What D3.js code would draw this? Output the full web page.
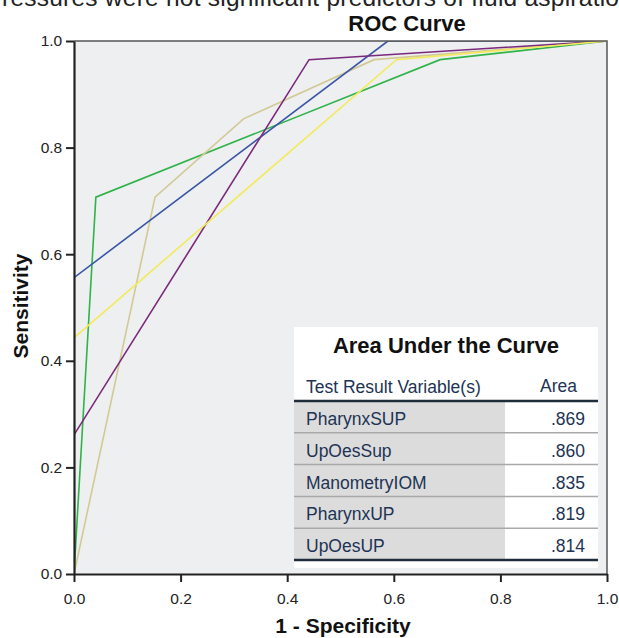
<!DOCTYPE html>
<html>
<head>
<meta charset="utf-8">
<script src="https://cdn.jsdelivr.net/npm/d3@7"></script>
<style>
	body { margin: 0; background: #fff; }
	text { font-family: "Liberation Sans", Arial, sans-serif; }
</style>
</head>
<body>
<script>
// ROC points per test, [1 - specificity, sensitivity]
var pharynxSUP = [[0, 0], [0.041, 0.707], [0.687, 0.965], [1, 1]];
var upOesSup = [[0, 0], [0.152, 0.707], [0.318, 0.854], [0.563, 0.965], [1, 1]];
var manometryIOM = [[0, 0], [0, 0.556], [0.589, 1], [1, 1]];
var pharynxUP = [[0, 0], [0, 0.261], [0.441, 0.965], [1, 1]];
var upOesUP = [[0, 0], [0, 0.443], [0.605, 0.965], [1, 1]];

var testNames = ["PharynxSUP", "UpOesSup", "ManometryIOM", "PharynxUP", "UpOesUP"];
var areas = [".869", ".860", ".835", ".819", ".814"];
var tickValues = [0, 0.2, 0.4, 0.6, 0.8, 1.0];

window.onload = function(){
	var W = 619, H = 638;
	var left = 74, right = 607, top = 41, bottom = 574;

	var svg = d3.select("body").append("svg")
		.attr("width", W)
		.attr("height", H);

	// cut-off caption line from the page above
	svg.append("text")
		.attr("x", 2).attr("y", 6)
		.attr("font-size", 24.5)
		.attr("fill", "#222")
		.attr("textLength", 617)
		.text("ressures were not significant predictors of fluid aspiratio");

	var x = d3.scaleLinear().domain([0, 1]).range([left, right]);
	var y = d3.scaleLinear().domain([0, 1]).range([bottom, top]);

	svg.append("rect")
		.attr("x", left).attr("y", top)
		.attr("width", right - left).attr("height", bottom - top)
		.attr("fill", "#eeeff0");

	svg.append("defs").append("clipPath").attr("id", "plotclip")
		.append("rect")
		.attr("x", left).attr("y", top)
		.attr("width", right - left).attr("height", bottom - top);

	var series = [
		{data: pharynxSUP, color: "#2fb34a"},
		{data: upOesSup, color: "#d2c995"},
		{data: manometryIOM, color: "#3a55a8"},
		{data: pharynxUP, color: "#7a2a7c"},
		{data: upOesUP, color: "#f3ea5c"}
	];

	var line = d3.line()
		.x(function(d){return x(d[0]);})
		.y(function(d){return y(d[1]);});

	svg.append("g").attr("clip-path", "url(#plotclip)")
		.selectAll("path")
		.data(series)
		.enter()
		.append("path")
		.attr("d", function(d){return line(d.data);})
		.attr("fill", "none")
		.attr("stroke", function(d){return d.color;})
		.attr("stroke-width", 1.6);

	// frame top/right
	svg.append("path")
		.attr("d", "M" + left + "," + top + "H" + right + "V" + bottom)
		.attr("fill", "none")
		.attr("stroke", "#555")
		.attr("stroke-width", 1.5);

	var fmt = d3.format(".1f");
	var xAxis = svg.append("g")
		.attr("transform", "translate(0," + bottom + ")")
		.call(d3.axisBottom(x).tickValues(tickValues).tickFormat(fmt).tickSize(8).tickSizeOuter(0));
	var yAxis = svg.append("g")
		.attr("transform", "translate(" + left + ",0)")
		.call(d3.axisLeft(y).tickValues(tickValues).tickFormat(fmt).tickSize(8).tickSizeOuter(0));

	[xAxis, yAxis].forEach(function(a){
		a.select(".domain").attr("stroke", "#222").attr("stroke-width", 2.2);
		a.selectAll(".tick line").attr("stroke", "#222").attr("stroke-width", 2);
		a.selectAll(".tick text").attr("font-size", 15.5).attr("fill", "#222")
			.attr("font-family", "Liberation Sans, Arial, sans-serif");
	});
	xAxis.selectAll(".tick text").attr("dy", "1.2em");
	yAxis.selectAll(".tick text").attr("dx", "-0.05em");

	svg.append("text")
		.attr("x", 407).attr("y", 31)
		.attr("text-anchor", "middle")
		.attr("font-size", 22).attr("font-weight", "bold")
		.attr("fill", "#111")
		.text("ROC Curve");

	svg.append("text")
		.attr("x", 343).attr("y", 633)
		.attr("text-anchor", "middle")
		.attr("font-size", 21).attr("font-weight", "bold")
		.attr("fill", "#111")
		.text("1 - Specificity");

	svg.append("text")
		.attr("transform", "translate(28,306) rotate(-90)")
		.attr("text-anchor", "middle")
		.attr("font-size", 21).attr("font-weight", "bold")
		.attr("fill", "#111")
		.text("Sensitivity");

	// Area Under the Curve table
	var tx = 294, tw = 304, ty = 327, th = 241;
	var headY = 401, rowH = 31.8, valCol = 505;
	var table = svg.append("g");
	table.append("rect")
		.attr("x", tx).attr("y", ty).attr("width", tw).attr("height", th)
		.attr("fill", "#fff");
	table.append("rect")
		.attr("x", tx).attr("y", headY)
		.attr("width", valCol - tx).attr("height", rowH * testNames.length)
		.attr("fill", "#dcdcdc");
	table.append("text")
		.attr("x", tx + tw / 2).attr("y", 353)
		.attr("text-anchor", "middle")
		.attr("font-size", 22).attr("font-weight", "bold")
		.attr("fill", "#111")
		.text("Area Under the Curve");
	table.append("text")
		.attr("x", 306).attr("y", 393)
		.attr("font-size", 17.5).attr("fill", "#1d3454")
		.text("Test Result Variable(s)");
	table.append("text")
		.attr("x", 577).attr("y", 392)
		.attr("text-anchor", "end")
		.attr("font-size", 17.5).attr("fill", "#1d3454")
		.text("Area");

	var rows = table.selectAll("g.row")
		.data(testNames)
		.enter()
		.append("g")
		.attr("class", "row")
		.attr("transform", function(d, i){return "translate(0," + (headY + i * rowH) + ")";});
	rows.append("line")
		.attr("x1", tx).attr("x2", tx + tw)
		.attr("y1", rowH).attr("y2", rowH)
		.attr("stroke", function(d, i){return i === testNames.length - 1 ? "#1f2d3a" : "#a9a9a9";})
		.attr("stroke-width", function(d, i){return i === testNames.length - 1 ? 2.5 : 1.5;});
	rows.append("text")
		.attr("x", 306).attr("y", 24)
		.attr("font-size", 17.5).attr("fill", "#1d3454")
		.text(function(d){return d;});
	rows.append("text")
		.attr("x", 585).attr("y", 24)
		.attr("text-anchor", "end")
		.attr("font-size", 17.5).attr("fill", "#1d3454")
		.text(function(d, i){return areas[i];});

	table.append("line")
		.attr("x1", tx).attr("x2", tx + tw)
		.attr("y1", headY).attr("y2", headY)
		.attr("stroke", "#1f2d3a").attr("stroke-width", 2.5);
};
</script>
</body>
</html>
